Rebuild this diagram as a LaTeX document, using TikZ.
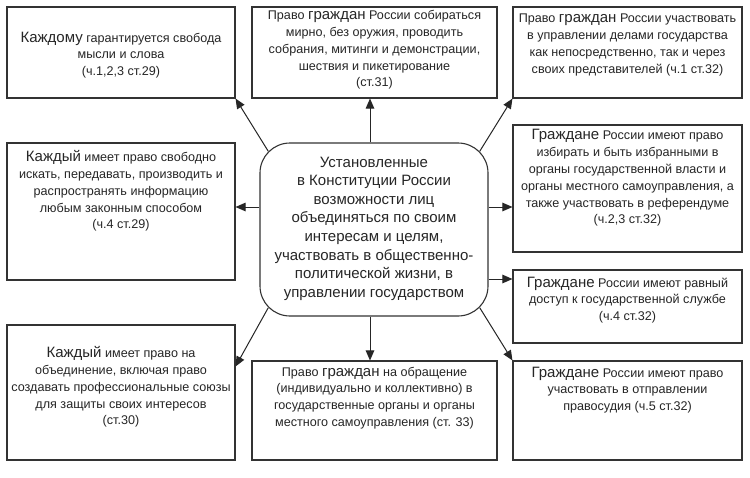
\documentclass[tikz,border=0pt]{standalone}
\usepackage{fontspec}
\setmainfont{Liberation Sans}
\usetikzlibrary{arrows.meta,calc}
\begin{document}
\begin{tikzpicture}[x=1pt,y=1pt,
  box/.style={draw=black!80,line width=1.1pt,minimum width=#1,inner sep=0pt},
  txt/.style={align=center,font=\fontsize{12.6}{16.8}\selectfont,text=black!85,inner sep=0pt},
  arr/.style={draw=black!85,line width=1pt,-{Triangle[length=10pt,width=8.5pt]}}]
\newcommand{\bw}[1]{{\fontsize{15}{16.8}\selectfont #1}}
\useasboundingbox (0,0) rectangle (750,-477);
\fill[white] (0,0) rectangle (750,-477);
% boxes
\node[box=228pt,minimum height=91pt] (tl) at (121,-52.5) {};
\node[box=245pt,minimum height=91pt] (tc) at (374.5,-52.5) {};
\node[box=229pt,minimum height=91pt] (tr) at (627.5,-52.5) {};
\node[box=228pt,minimum height=137pt] (ml) at (121,-211.5) {};
\node[box=229pt,minimum height=127pt] (r2) at (627.5,-188.5) {};
\node[box=229pt,minimum height=73pt] (r3) at (627.5,-306.5) {};
\node[box=228pt,minimum height=135pt] (bl) at (121,-392.5) {};
\node[box=245pt,minimum height=99pt] (bc) at (374.5,-410.5) {};
\node[box=229pt,minimum height=99pt] (r4) at (627.5,-410.5) {};
\node[box=228pt,minimum height=173pt,rounded corners=30pt] (c) at (374,-229.5) {};
% texts
\node[txt] (tlt) at (121,-55) {\bw{Каждому} гарантируется свобода\\ мысли и слова\\ (ч.1,2,3 ст.29)};
\node[txt] (tct) at (374.5,-50) {Право \bw{граждан} России собираться\\ мирно, без оружия, проводить\\ собрания, митинги и демонстрации,\\ шествия и пикетирование\\ (ст.31)};
\node[txt] (trt) at (627.5,-45) {Право \bw{граждан} России участвовать\\ в управлении делами государства\\ как непосредственно, так и через\\ своих представителей (ч.1 ст.32)};
\node[txt] (mlt) at (121,-191) {\bw{Каждый} имеет право свободно\\ искать, передавать, производить и\\ распространять информацию\\ любым законным способом\\ (ч.4 ст.29)};
\node[txt] (r2t) at (627.5,-178) {\bw{Граждане} России имеют право\\ избирать и быть избранными в\\ органы государственной власти и\\ органы местного самоуправления, а\\ также участвовать в референдуме\\ (ч.2,3 ст.32)};
\node[txt] (r3t) at (627.5,-300) {\bw{Граждане} России имеют равный\\ доступ к государственной службе\\ (ч.4 ст.32)};
\node[txt] (blt) at (121,-387) {\bw{Каждый} имеет право на\\ объединение, включая право\\ создавать профессиональные союзы\\ для защиты своих интересов\\ (ст.30)};
\node[txt] (bct) at (374.5,-398) {Право \bw{граждан} на обращение\\ (индивидуально и коллективно) в\\ государственные органы и органы\\ местного самоуправления (ст. 33)};
\node[txt] (r4t) at (627.5,-390) {\bw{Граждане} России имеют право\\ участвовать в отправлении\\ правосудия (ч.5 ст.32)};
\node[align=center,font=\fontsize{15}{18.6}\selectfont,text=black!85,inner sep=0pt] (ct) at (374,-228.5) {Установленные\\ в Конституции России\\ возможности лиц\\ объединяться по своим\\ интересам и целям,\\ участвовать в общественно-\\ политической жизни, в\\ управлении государством};
% connectors
\draw[arr] ([shift={(8.8,-8.8)}]c.north west) -- (tl.south east);
\draw[arr] ([xshift=-4]c.north) -- ([xshift=-4.5]tc.south);
\draw[arr] ([shift={(-8.8,-8.8)}]c.north east) -- (tr.south west);
\draw[arr] ([yshift=22.5]c.west) -- ([yshift=22.5]c.west -| ml.east);
\draw[arr] ([yshift=22.5]c.east) -- ([yshift=22.5]c.east -| r2.west);
\draw[arr] ([yshift=-49.5]c.east) -- ([yshift=-49.5]c.east -| r3.west);
\draw[arr] ([shift={(-8.8,8.8)}]c.south east) -- (r4.north west);
\draw[arr] ([xshift=-4]c.south) -- ([xshift=-4.5]bc.north);
\draw[arr] ([shift={(8.8,8.8)}]c.south west) -- ([yshift=-42]bl.north east);
\end{tikzpicture}
\end{document}
